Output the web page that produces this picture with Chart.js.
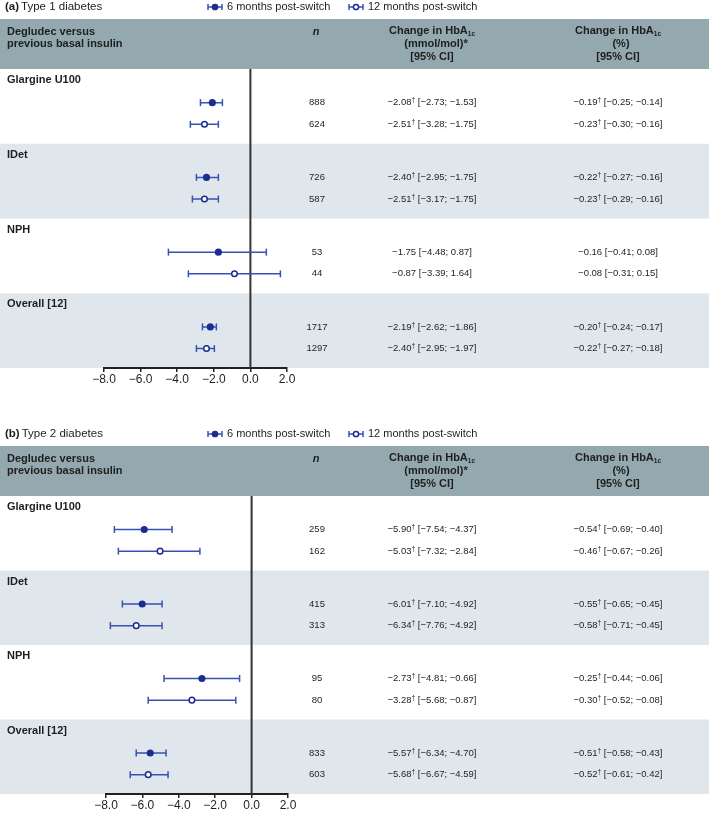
<!DOCTYPE html>
<html>
<head>
<meta charset="utf-8">
<title>HbA1c change after switch to degludec</title>
<script src="https://cdn.jsdelivr.net/npm/chart.js@4.4.1/dist/chart.umd.min.js"></script>
<style>
  body { margin: 0; background: #fff; width: 709px; height: 813px; overflow: hidden; }
  canvas { display: block; }
</style>
</head>
<body>
<canvas id="chartT1" width="709" height="427"></canvas>
<canvas id="chartT2" width="709" height="386"></canvas>
<script>
// ---- data ----
const groups = ["Glargine U100", "IDet", "NPH", "Overall [12]"];
const seriesNames = ["6 months post-switch", "12 months post-switch"];
const xTicks = [-8, -6, -4, -2, 0, 2];

// rows go group by group: 6 months, then 12 months
const t1N = [888, 624, 726, 587, 53, 44, 1717, 1297];
const t1Est = [-2.08, -2.51, -2.40, -2.51, -1.75, -0.87, -2.19, -2.40];
const t1Lo = [-2.73, -3.28, -2.95, -3.17, -4.48, -3.39, -2.62, -2.95];
const t1Hi = [-1.53, -1.75, -1.75, -1.75, 0.87, 1.64, -1.86, -1.97];
const t1Pct = [-0.19, -0.23, -0.22, -0.23, -0.16, -0.08, -0.20, -0.22];
const t1PctLo = [-0.25, -0.30, -0.27, -0.29, -0.41, -0.31, -0.24, -0.27];
const t1PctHi = [-0.14, -0.16, -0.16, -0.16, 0.08, 0.15, -0.17, -0.18];
const t1Sig = [true, true, true, true, false, false, true, true];

const t2N = [259, 162, 415, 313, 95, 80, 833, 603];
const t2Est = [-5.90, -5.03, -6.01, -6.34, -2.73, -3.28, -5.57, -5.68];
const t2Lo = [-7.54, -7.32, -7.10, -7.76, -4.81, -5.68, -6.34, -6.67];
const t2Hi = [-4.37, -2.84, -4.92, -4.92, -0.66, -0.87, -4.70, -4.59];
const t2Pct = [-0.54, -0.46, -0.55, -0.58, -0.25, -0.30, -0.51, -0.52];
const t2PctLo = [-0.69, -0.67, -0.65, -0.71, -0.44, -0.52, -0.58, -0.61];
const t2PctHi = [-0.40, -0.26, -0.45, -0.45, -0.06, -0.08, -0.43, -0.42];
const t2Sig = [true, true, true, true, true, true, true, true];

// ---- style ----
const FONT = "'Liberation Sans', Arial, Helvetica, sans-serif";
const TEXT = "#1e1e1e";
const HEADER_BG = "#93a8af";
const BAND_BG = "#e0e7ec";
const LINE_BLUE = "#3652b4";
const DOT_BLUE = "#1b2d8f";

const COL_N = 317, COL_MMOL = 432, COL_PCT = 618;
const HEADER_TOP = 19, HEADER_BOTTOM = 69;

function rowY(i) {
    return Math.floor(i / 2) + (i % 2 ? 0.74 : 0.45);
}

function fmt(v) {
    return v.toFixed(2).replace("-", "\u2212");
}

function ciData(lo, hi, series) {
    const out = [];
    lo.forEach((l, i) => {
        if (i % 2 !== series) return;
        out.push({ x: l, y: rowY(i) }, { x: hi[i], y: rowY(i) }, { x: hi[i], y: null });
    });
    return out;
}

function estData(est, series) {
    return est.map((v, i) => ({ x: v, y: rowY(i) })).filter((p, i) => i % 2 === series);
}

// value with optional dagger, then the interval
function drawCI(ctx, cx, y, est, lo, hi, sig) {
    const a = fmt(est), b = " [" + fmt(lo) + "; " + fmt(hi) + "]";
    ctx.font = "9.5px " + FONT;
    const wa = ctx.measureText(a).width, wb = ctx.measureText(b).width;
    ctx.font = "6.5px " + FONT;
    const wd = sig ? ctx.measureText("\u2020").width : 0;
    let x = cx - (wa + wd + wb) / 2;
    ctx.textAlign = "left";
    ctx.font = "9.5px " + FONT;
    ctx.fillText(a, x, y);
    x += wa;
    if (sig) {
        ctx.font = "6.5px " + FONT;
        ctx.fillText("\u2020", x, y - 2);
        x += wd;
    }
    ctx.font = "9.5px " + FONT;
    ctx.fillText(b, x, y);
}

function drawHbA(ctx, cx, y) {
    ctx.font = "bold 11px " + FONT;
    const w1 = ctx.measureText("Change in HbA").width;
    ctx.font = "bold 6.5px " + FONT;
    const w2 = ctx.measureText("1c").width;
    const x = cx - (w1 + w2) / 2;
    ctx.textAlign = "left";
    ctx.font = "bold 11px " + FONT;
    ctx.fillText("Change in HbA", x, y);
    ctx.font = "bold 6.5px " + FONT;
    ctx.fillText("1c", x + w1, y + 3);
}

function drawIcon(ctx, cx, cy, filled) {
    ctx.strokeStyle = LINE_BLUE;
    ctx.lineWidth = 1.5;
    ctx.beginPath();
    ctx.moveTo(cx - 7, cy); ctx.lineTo(cx + 7, cy);
    ctx.moveTo(cx - 7, cy - 3); ctx.lineTo(cx - 7, cy + 3);
    ctx.moveTo(cx + 7, cy - 3); ctx.lineTo(cx + 7, cy + 3);
    ctx.stroke();
    ctx.beginPath();
    ctx.arc(cx, cy, 2.6, 0, Math.PI * 2);
    ctx.fillStyle = filled ? DOT_BLUE : "#fff";
    ctx.fill();
    ctx.strokeStyle = DOT_BLUE;
    ctx.stroke();
}

function buildPanel(id, p) {
    const canvas = document.getElementById(id);
    const H = canvas.height;

    const decor = {
        id: "decor",
        beforeDraw(chart) {
            const { ctx, chartArea, scales: { y } } = chart;
            ctx.save();
            ctx.fillStyle = HEADER_BG;
            ctx.fillRect(0, HEADER_TOP, chart.width, chartArea.top - HEADER_TOP);
            ctx.fillStyle = BAND_BG;
            groups.forEach((g, i) => {
                if (i % 2 === 1) {
                    const t = y.getPixelForValue(i), b = y.getPixelForValue(i + 1);
                    ctx.fillRect(0, t, chart.width, b - t);
                }
            });
            ctx.restore();
        },
        beforeDatasetsDraw(chart) {
            const { ctx, chartArea, scales: { x } } = chart;
            const x0 = x.getPixelForValue(0);
            ctx.save();
            ctx.strokeStyle = "#333";
            ctx.lineWidth = 2;
            ctx.beginPath();
            ctx.moveTo(x0, chartArea.top);
            ctx.lineTo(x0, chartArea.bottom);
            ctx.stroke();
            ctx.restore();
        },
        afterDraw(chart) {
            const { ctx, scales: { y } } = chart;
            ctx.save();
            ctx.fillStyle = TEXT;
            ctx.textBaseline = "middle";

            // title + legend
            ctx.textAlign = "left";
            ctx.font = "bold 11.5px " + FONT;
            ctx.fillText(p.tag, 5, 7);
            const wt = ctx.measureText(p.tag).width;
            ctx.font = "11.5px " + FONT;
            ctx.fillText(p.title, 5 + wt + 2, 7);
            drawIcon(ctx, 215, 7, true);
            drawIcon(ctx, 356, 7, false);
            ctx.fillStyle = TEXT;
            ctx.font = "11px " + FONT;
            ctx.fillText(seriesNames[0], 227, 7);
            ctx.fillText(seriesNames[1], 368, 7);

            // header
            ctx.font = "bold 11px " + FONT;
            ctx.fillText("Degludec versus", 7, HEADER_TOP + 13);
            ctx.fillText("previous basal insulin", 7, HEADER_TOP + 25);
            ctx.textAlign = "center";
            ctx.font = "italic bold 11px " + FONT;
            ctx.fillText("n", COL_N - 1, HEADER_TOP + 13);
            drawHbA(ctx, COL_MMOL, HEADER_TOP + 12);
            drawHbA(ctx, COL_PCT, HEADER_TOP + 12);
            ctx.textAlign = "center";
            ctx.font = "bold 11px " + FONT;
            ctx.fillText("(mmol/mol)*", COL_MMOL + 4, HEADER_TOP + 25);
            ctx.fillText("[95% CI]", COL_MMOL, HEADER_TOP + 38);
            ctx.fillText("(%)", COL_PCT + 3, HEADER_TOP + 25);
            ctx.fillText("[95% CI]", COL_PCT, HEADER_TOP + 38);

            // group labels
            ctx.textAlign = "left";
            ctx.font = "bold 11px " + FONT;
            groups.forEach((g, i) => ctx.fillText(g, 7, y.getPixelForValue(i + 0.15)));

            // row values
            p.n.forEach((n, i) => {
                const py = y.getPixelForValue(rowY(i));
                ctx.textAlign = "center";
                ctx.font = "9.5px " + FONT;
                ctx.fillText(String(n), COL_N, py);
                drawCI(ctx, COL_MMOL, py, p.est[i], p.lo[i], p.hi[i], p.sig[i]);
                drawCI(ctx, COL_PCT, py, p.pct[i], p.pctLo[i], p.pctHi[i], p.sig[i]);
            });
            ctx.restore();
        }
    };

    return new Chart(canvas.getContext("2d"), {
        type: "line",
        data: {
            datasets: [
                {
                    label: seriesNames[0],
                    data: estData(p.est, 0),
                    showLine: false,
                    pointRadius: 2.8,
                    pointBorderWidth: 1.5,
                    pointBackgroundColor: DOT_BLUE,
                    pointBorderColor: DOT_BLUE
                },
                {
                    label: seriesNames[1],
                    data: estData(p.est, 1),
                    showLine: false,
                    pointRadius: 2.8,
                    pointBorderWidth: 1.5,
                    pointBackgroundColor: "#fff",
                    pointBorderColor: DOT_BLUE
                },
                {
                    label: "ci6",
                    data: ciData(p.lo, p.hi, 0),
                    borderColor: LINE_BLUE,
                    borderWidth: 1.5,
                    spanGaps: false,
                    pointStyle: "line",
                    pointRotation: 90,
                    pointRadius: 3.5,
                    pointBorderWidth: 1.5,
                    pointBorderColor: LINE_BLUE
                },
                {
                    label: "ci12",
                    data: ciData(p.lo, p.hi, 1),
                    borderColor: LINE_BLUE,
                    borderWidth: 1.5,
                    spanGaps: false,
                    pointStyle: "line",
                    pointRotation: 90,
                    pointRadius: 3.5,
                    pointBorderWidth: 1.5,
                    pointBorderColor: LINE_BLUE
                }
            ]
        },
        options: {
            responsive: false,
            animation: false,
            events: [],
            layout: {
                padding: { left: p.plotLeft, right: canvas.width - p.plotRight, top: HEADER_BOTTOM, bottom: 0 }
            },
            plugins: {
                legend: { display: false },
                tooltip: { enabled: false }
            },
            scales: {
                x: {
                    type: "linear",
                    min: xTicks[0],
                    max: xTicks[xTicks.length - 1],
                    afterBuildTicks: s => { s.ticks = xTicks.map(v => ({ value: v })); },
                    afterFit: s => { s.height = H - p.axisY; },
                    grid: { drawOnChartArea: false, drawTicks: true, tickLength: 4, color: "#222", lineWidth: 1.5 },
                    border: { display: true, color: "#222", width: 2 },
                    ticks: {
                        padding: 0,
                        color: TEXT,
                        autoSkip: false,
                        maxRotation: 0,
                        font: { family: FONT, size: 12 },
                        callback: v => v.toFixed(1).replace("-", "\u2212")
                    }
                },
                y: { type: "linear", min: 0, max: 4, reverse: true, display: false }
            }
        },
        plugins: [decor]
    });
}

buildPanel("chartT1", {
    tag: "(a)", title: "Type 1 diabetes", plotLeft: 104, plotRight: 287, axisY: 368,
    n: t1N, est: t1Est, lo: t1Lo, hi: t1Hi, pct: t1Pct, pctLo: t1PctLo, pctHi: t1PctHi, sig: t1Sig
});
buildPanel("chartT2", {
    tag: "(b)", title: "Type 2 diabetes", plotLeft: 106, plotRight: 288, axisY: 367,
    n: t2N, est: t2Est, lo: t2Lo, hi: t2Hi, pct: t2Pct, pctLo: t2PctLo, pctHi: t2PctHi, sig: t2Sig
});
</script>
</body>
</html>
